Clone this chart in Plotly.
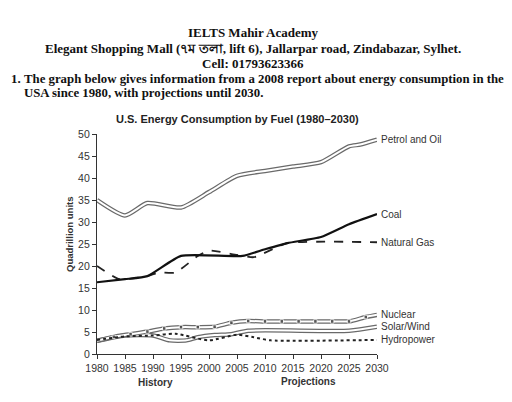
import plotly.graph_objects as go

# values (quadrillion units)
petrol_years = [1980, 1985, 1989, 1995, 2000, 2005, 2010, 2015, 2020, 2025, 2027, 2030]
petrol_vals = [35.0, 31.5, 34.3, 33.3, 36.8, 40.5, 41.6, 42.6, 43.6, 47.2, 47.6, 48.7]

coal_years = [1980, 1985, 1989, 1995, 2006, 2010, 2014, 2020, 2025, 2030]
coal_vals = [16.3, 17.0, 17.7, 22.3, 22.3, 23.8, 25.2, 26.6, 29.5, 31.8]

gas_years = [1980, 1984, 1989, 1991, 1994, 1998, 2000, 2005, 2008, 2014, 2030]
gas_vals = [20.0, 17.0, 17.7, 18.5, 18.5, 22.3, 23.5, 22.5, 22.0, 25.2, 25.4]

nuclear_years = [1980, 1983, 1986, 1989, 1992, 1995, 1998, 2001, 2004, 2007, 2010,
                 2013, 2016, 2019, 2022, 2025, 2028, 2030]
nuclear_vals = [3.0, 3.9, 4.5, 5.1, 5.8, 6.1, 6.1, 6.2, 7.1, 7.5, 7.4,
                7.4, 7.4, 7.4, 7.4, 7.4, 8.4, 8.9]

solar_years = [1980, 1985, 1990, 1993, 1996, 1998, 2001, 2004, 2007, 2025, 2030]
solar_vals = [3.0, 4.2, 4.2, 3.1, 3.1, 3.8, 4.3, 4.5, 5.3, 5.3, 6.2]

hydro_years = [1980, 1985, 1990, 1994, 2000, 2005, 2008, 2011, 2030]
hydro_vals = [3.2, 4.0, 4.2, 4.6, 3.1, 4.4, 3.8, 3.1, 3.2]

year_ticks = [1980, 1985, 1990, 1995, 2000, 2005, 2010, 2015, 2020, 2025, 2030]
value_ticks = [0, 5, 10, 15, 20, 25, 30, 35, 40, 45, 50]

SANS = "Liberation Sans, Arial, sans-serif"
SERIF = "Liberation Serif, Times New Roman, serif"


# plot area in window pixels: x 97..377, y 134..354
def px(x):
    return (x - 97) / 280


def py(y):
    return (354 - y) / 220


fig = go.Figure()


def double_line(xs, ys, name):
    # grey outline with a white core, like the hollow lines in the print
    fig.add_trace(go.Scatter(x=xs, y=ys, mode="lines", name=name,
                             line=dict(color="#6a6a6a", width=4.5, shape="spline", smoothing=0.6),
                             hoverinfo="skip"))
    fig.add_trace(go.Scatter(x=xs, y=ys, mode="lines", name=name,
                             line=dict(color="white", width=2, shape="spline", smoothing=0.6)))


double_line(petrol_years, petrol_vals, "Petrol and Oil")
double_line(solar_years, solar_vals, "Solar/Wind")
double_line(nuclear_years, nuclear_vals, "Nuclear")

# small black squares on the nuclear line
nuc_sizes = [0] + [3.5] * (len(nuclear_years) - 2) + [0]
fig.add_trace(go.Scatter(x=nuclear_years, y=nuclear_vals, mode="markers",
                         marker=dict(symbol="square", size=nuc_sizes, color="#111"),
                         hoverinfo="skip"))

fig.add_trace(go.Scatter(x=hydro_years, y=hydro_vals, mode="lines", name="Hydropower",
                         line=dict(color="#222", width=2, dash="dot", shape="spline", smoothing=0.6)))
fig.add_trace(go.Scatter(x=gas_years, y=gas_vals, mode="lines", name="Natural Gas",
                         line=dict(color="#222", width=1.8, dash="dash", shape="spline", smoothing=0.5)))
fig.add_trace(go.Scatter(x=coal_years, y=coal_vals, mode="lines", name="Coal",
                         line=dict(color="#111", width=2.2, shape="spline", smoothing=0.5)))

# series labels at the end of each line
labels = [("Petrol and Oil", petrol_vals[-1]), ("Coal", coal_vals[-1]),
          ("Natural Gas", gas_vals[-1]), ("Nuclear", nuclear_vals[-1]),
          ("Solar/Wind", solar_vals[-1]), ("Hydropower", hydro_vals[-1])]
annotations = []
for text, val in labels:
    annotations.append(dict(x=2030, y=val, xref="x", yref="y", text=text, showarrow=False,
                            xanchor="left", yanchor="middle", xshift=2,
                            font=dict(family=SANS, size=10, color="#333")))

# page header (scanned worksheet text)
header = [
    ("<b>IELTS Mahir Academy</b>", 253, 32),
    ("<b>Elegant Shopping Mall (৭ম তলা, lift 6), Jallarpar road, Zindabazar, Sylhet.</b>", 253, 49),
    ("<b>Cell: 01793623366</b>", 253, 63),
]
for text, x, y in header:
    annotations.append(dict(x=px(x), y=py(y), xref="paper", yref="paper", text=text,
                            showarrow=False, xanchor="center", yanchor="middle",
                            font=dict(family=SERIF, size=13, color="#111")))

annotations += [
    dict(x=px(8.5), y=py(79), text="<b>1.</b>", xanchor="left"),
    dict(x=px(22), y=py(79), xanchor="left",
         text="<b>The graph below gives information from a 2008 report about energy consumption in the</b>"),
    dict(x=px(22), y=py(93), xanchor="left",
         text="<b>USA since 1980, with projections until 2030.</b>"),
]
for a in annotations[-3:]:
    a.update(xref="paper", yref="paper", showarrow=False, yanchor="middle",
             font=dict(family=SERIF, size=12.8, color="#111"))

# chart title, axis title and the history / projections captions
annotations += [
    dict(x=px(237), y=py(119), text="<b>U.S. Energy Consumption by Fuel (1980–2030)</b>",
         xanchor="center", font=dict(family=SANS, size=11, color="#222")),
    dict(x=px(69), y=py(235), text="<b>Quadrillion units</b>", textangle=-90,
         xanchor="center", font=dict(family=SANS, size=9.5, color="#333")),
    dict(x=px(155), y=py(382), text="<b>History</b>", xanchor="center",
         font=dict(family=SANS, size=10, color="#333")),
    dict(x=px(308), y=py(381), text="<b>Projections</b>", xanchor="center",
         font=dict(family=SANS, size=10, color="#333")),
]
for a in annotations[-4:]:
    a.update(xref="paper", yref="paper", showarrow=False, yanchor="middle")

# the page body keeps its 8px margin, so the figure is 8px smaller each way
fig.update_layout(
    width=504, height=394,
    margin=dict(l=89, r=135, t=126, b=48),
    paper_bgcolor="white", plot_bgcolor="white",
    showlegend=False,
    annotations=annotations,
    font=dict(family=SANS, size=10.5, color="#333"),
)
fig.update_xaxes(range=[1980, 2030], tickvals=year_ticks, showgrid=False, zeroline=False,
                 showline=True, linecolor="#333", linewidth=1.2, ticks="outside",
                 ticklen=4, tickcolor="#333", tickfont=dict(family=SANS, size=10.5, color="#333"))
fig.update_yaxes(range=[0, 50], tickvals=value_ticks, showgrid=False, zeroline=False,
                 showline=True, linecolor="#333", linewidth=1.2, ticks="outside",
                 ticklen=4, tickcolor="#333", tickfont=dict(family=SANS, size=10.5, color="#333"))

fig.write_html("out.html")
